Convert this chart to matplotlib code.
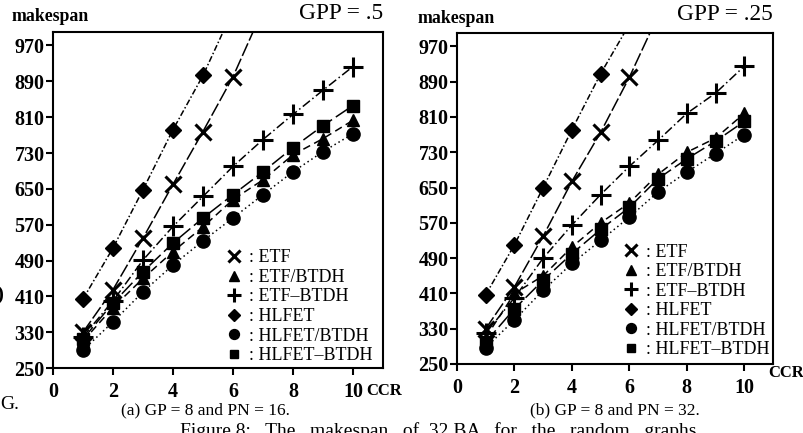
import matplotlib
matplotlib.use('Agg')
import matplotlib.pyplot as plt
from matplotlib.lines import Line2D

plt.rcParams['font.family'] = ['Liberation Serif', 'DejaVu Serif']

ccr = [1, 2, 3, 4, 5, 6, 7, 8, 9, 10]
names = ['ETF', 'ETF/BTDH', 'ETF\u2013BTDH', 'HLFET', 'HLFET/BTDH', 'HLFET\u2013BTDH']

# (a) GP = 8, PN = 16
a_etf = [330, 425, 540, 660, 778, 900, 1050]
a_etf_slash = [310, 385, 450, 510, 565, 626, 670, 726, 762, 803]
a_etf_dash = [320, 400, 491, 566, 633, 700, 760, 816, 870, 923]
a_hlfet = [404, 518, 648, 782, 903, 1048]
a_hlfet_slash = [290, 353, 420, 480, 534, 585, 637, 688, 733, 773]
a_hlfet_dash = [315, 395, 465, 529, 585, 637, 688, 742, 791, 836]

# (b) GP = 8, PN = 32
b_etf = [330, 425, 540, 664, 775, 900, 1040]
b_etf_slash = [310, 410, 450, 515, 570, 615, 680, 730, 762, 818]
b_etf_dash = [320, 400, 490, 565, 634, 698, 757, 818, 864, 925]
b_hlfet = [407, 520, 650, 781, 908, 1020]
b_hlfet_slash = [287, 350, 417, 478, 530, 583, 640, 685, 727, 770]
b_hlfet_dash = [300, 375, 440, 500, 555, 605, 670, 715, 755, 800]

yticks = [250, 330, 410, 490, 570, 650, 730, 810, 890, 970]
xticks = [0, 2, 4, 6, 8, 10]

styles = [
    dict(marker='x', ms=11, mew=2.2, ls=(0, (9, 2))),
    dict(marker='^', ms=9, mew=1, ls=(0, (5, 3))),
    dict(marker='+', ms=14, mew=2.2, ls=(0, (6, 2, 1, 2))),
    dict(marker='D', ms=8, mew=1, ls=(0, (4, 1.5, 1, 1.5))),
    dict(marker='o', ms=9.5, mew=1, ls=(0, (1, 2))),
    dict(marker='s', ms=8.5, mew=1, ls=(0, (10, 3))),
]


def panel(ax, series, gpp, legend_xy):
    for vals, st in zip(series, styles):
        ax.plot(ccr[:len(vals)], vals, color='black', lw=1.1,
                marker=st['marker'], ms=st['ms'], mew=st['mew'], ls=st['ls'])
    ax.set_xlim(0, 11)
    ax.set_ylim(250, 1000)
    ax.set_xticks(xticks)
    ax.set_yticks(yticks)
    ax.tick_params(direction='out', length=5, width=1.5, labelsize=14.5, pad=1)
    ax.tick_params(axis='x', pad=5)
    for lab in ax.get_xticklabels() + ax.get_yticklabels():
        lab.set_fontweight('bold')
    for sp in ax.spines.values():
        sp.set_linewidth(1.5)

    handles = [Line2D([], [], color='black', ls='none', marker=st['marker'],
                      ms=st['ms'] * 0.75, mew=st['mew']) for st in styles]
    ax.legend(handles, [': ' + n for n in names], loc='lower left',
              bbox_to_anchor=legend_xy, frameon=False, handlelength=0.7,
              handletextpad=0.45, labelspacing=0.14, borderpad=0,
              prop=dict(family='Liberation Serif', size=13))

    ax.text(-0.125, 1.045, 'makespan', transform=ax.transAxes, fontsize=12.8,
            fontweight='bold', ha='left', va='center')
    ax.text(1.0, 1.055, 'GPP = ' + gpp, transform=ax.transAxes, fontsize=16.8,
            ha='right', va='center')


fig = plt.figure(figsize=(8.04, 4.33), dpi=100)
ax1 = fig.add_axes([0.0659, 0.150, 0.4104, 0.776])
ax2 = fig.add_axes([0.5684, 0.1594, 0.393, 0.764])

panel(ax1, [a_etf, a_etf_slash, a_etf_dash, a_hlfet, a_hlfet_slash, a_hlfet_dash],
      '.5', (0.503, -0.015))
panel(ax2, [b_etf, b_etf_slash, b_etf_dash, b_hlfet, b_hlfet_slash, b_hlfet_dash],
      '.25', (0.503, -0.01))

fig.text(0.455, 0.098, 'CCR', fontsize=12, fontweight='bold', ha='left', va='center')
fig.text(0.955, 0.138, 'CCR', fontsize=12, fontweight='bold', ha='left', va='center')
fig.text(0.255, 0.053, '(a) GP = 8 and PN = 16.', fontsize=12.5, ha='center', va='center')
fig.text(0.765, 0.053, '(b) GP = 8 and PN = 32.', fontsize=12.5, ha='center', va='center')
fig.text(0.0, 0.065, 'G.', fontsize=14, ha='left', va='center')
fig.text(-0.005, 0.317, ')', fontsize=15, ha='left', va='center', fontweight='bold')
fig.text(0.224, 0.005, 'Figure 8:   The   makespan   of  32 BA   for   the   random   graphs.',
         fontsize=14, ha='left', va='center')

fig.savefig('out.png', dpi=100)
